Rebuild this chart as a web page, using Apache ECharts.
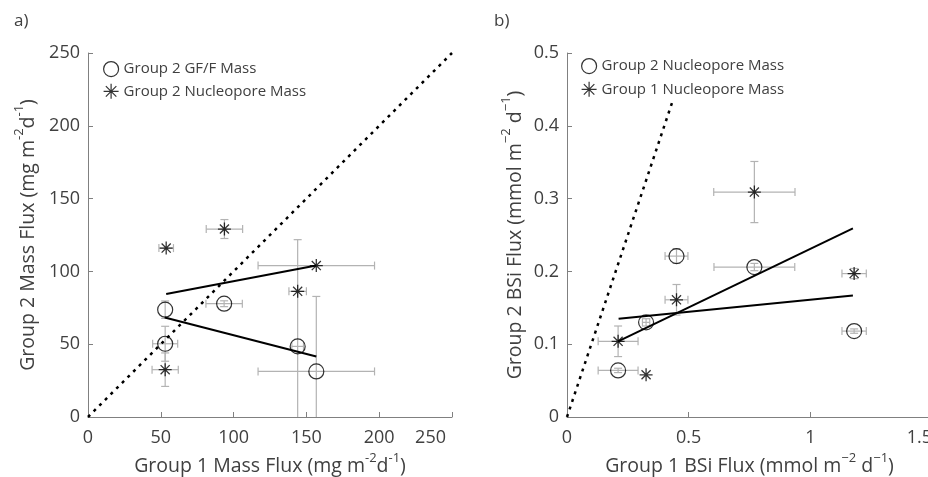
<!DOCTYPE html>
<html>
<head>
<meta charset="utf-8">
<script src="https://cdn.jsdelivr.net/npm/echarts@6/dist/echarts.min.js"></script>
<style>
html,body{margin:0;padding:0;background:#fff;}
#chart{width:928px;height:477px;}
</style>
</head>
<body>
<div id="chart"></div>
<script>
// ---------- Panel a) data ----------
const aXTicks = [0, 50, 100, 150, 200, 250];
const aYTicks = [0, 50, 100, 150, 200, 250];
// Group 2 GF/F Mass (circles)
const aCircX    = [53, 53, 93.5, 144, 156.8];
const aCircY    = [73.7, 50.3, 77.8, 48.5, 31.3];
const aCircXErr = [0, 8.6, 12.5, 4, 40];
const aCircYErr = [6, 12, 2, 73.3, 51.5];
// Group 2 Nucleopore Mass (asterisks)
const aStarX    = [53.7, 93.7, 156.8, 144, 53];
const aStarY    = [116, 129.1, 104, 86.3, 32.5];
const aStarXErr = [5, 12.5, 40, 6, 9];
const aStarYErr = [0, 6.5, 0, 0, 11.5];
// fit lines
const aFitStarX = [53.7, 156.8];
const aFitStarY = [84.5, 104.1];
const aFitCircX = [52.7, 156.8];
const aFitCircY = [68.4, 41.6];
// 1:1 line
const aOneX = [0, 250];
const aOneY = [0, 250];

// ---------- Panel b) data ----------
const bXTicks = [0, 0.5, 1, 1.5];
const bYTicks = [0, 0.1, 0.2, 0.3, 0.4, 0.5];
// Group 2 Nucleopore Mass (circles)
const bCircX    = [0.21, 0.325, 0.45, 0.77, 1.18];
const bCircY    = [0.064, 0.13, 0.221, 0.206, 0.118];
const bCircXErr = [0.082, 0.015, 0.047, 0.166, 0.05];
const bCircYErr = [0.003, 0.005, 0.01, 0.005, 0.003];
// Group 1 Nucleopore Mass (asterisks)
const bStarX    = [0.21, 0.325, 0.45, 0.77, 1.18];
const bStarY    = [0.104, 0.058, 0.161, 0.309, 0.197];
const bStarXErr = [0.082, 0, 0.047, 0.167, 0.05];
const bStarYErr = [0.021, 0, 0.021, 0.042, 0.007];
// fit lines
const bFitSteepX = [0.21, 1.175];
const bFitSteepY = [0.104, 0.259];
const bFitFlatX  = [0.212, 1.175];
const bFitFlatY  = [0.135, 0.167];
// 1:1 line
const bOneX = [0, 0.435];
const bOneY = [0, 0.435];

// ---------- helpers ----------
const FONT = '"Open Sans", "Noto Sans", sans-serif';
const TXT = '#404040';
const AXC = '#808080';
const ERRC = '#b3b3b3';
const STAR = 'path://M10,0L10,20M0,10L20,10M3,3L17,17M3,17L17,3';

function pairs(xs, ys) { return xs.map((x, i) => [x, ys[i]]); }
function quads(xs, ys, ex, ey) { return xs.map((x, i) => [x, ys[i], ex[i], ey[i]]); }

function errRender(params, api) {
  const x = api.value(0), y = api.value(1), dx = api.value(2), dy = api.value(3);
  const cap = 4;
  const st = { stroke: ERRC, lineWidth: 1.2 };
  const ch = [];
  if (dx > 0) {
    const l = api.coord([x - dx, y]), r = api.coord([x + dx, y]);
    ch.push({ type: 'line', shape: { x1: l[0], y1: l[1], x2: r[0], y2: r[1] }, style: st });
    ch.push({ type: 'line', shape: { x1: l[0], y1: l[1] - cap, x2: l[0], y2: l[1] + cap }, style: st });
    ch.push({ type: 'line', shape: { x1: r[0], y1: r[1] - cap, x2: r[0], y2: r[1] + cap }, style: st });
  }
  if (dy > 0) {
    const t = api.coord([x, y + dy]), b = api.coord([x, y - dy]);
    ch.push({ type: 'line', shape: { x1: t[0], y1: t[1], x2: b[0], y2: b[1] }, style: st });
    ch.push({ type: 'line', shape: { x1: t[0] - cap, y1: t[1], x2: t[0] + cap, y2: t[1] }, style: st });
    ch.push({ type: 'line', shape: { x1: b[0] - cap, y1: b[1], x2: b[0] + cap, y2: b[1] }, style: st });
  }
  return { type: 'group', children: ch };
}

const richName = {
  n: { fontSize: 19.5, color: TXT, fontFamily: FONT, lineHeight: 25, verticalAlign: 'bottom' },
  s: { fontSize: 13, color: TXT, fontFamily: FONT, lineHeight: 15, verticalAlign: 'top' }
};

function axis(gi, ticks, nameStr, gap, isY, maxPad) {
  const ax = {
    type: 'value', gridIndex: gi,
    min: ticks[0], max: ticks[ticks.length - 1], interval: ticks[1] - ticks[0],
    name: nameStr, nameLocation: 'middle', nameGap: gap,
    nameTextStyle: { rich: richName },
    axisLine: { show: true, onZero: false, lineStyle: { color: AXC, width: 1 } },
    axisTick: { show: true, inside: true, length: 5, lineStyle: { color: AXC } },
    axisLabel: { color: TXT, fontSize: 18, fontFamily: FONT, margin: isY ? 8 : 12,
                 formatter: v => String(v) },
    splitLine: { show: false }
  };
  if (!isY) {
    const mx = ticks[ticks.length - 1];
    ax.axisLabel.alignMaxLabel = 'right';
    ax.axisLabel.formatter = v => (v === mx ? '{m|' + v + '}' : String(v));
    ax.axisLabel.rich = { m: { fontSize: 18, color: TXT, fontFamily: FONT, padding: [0, maxPad, 0, 0] } };
  }
  return ax;
}

const circStyle = { color: 'rgba(0,0,0,0)', borderColor: '#000', borderWidth: 1.2 };
const starStyle = { color: '#000', borderColor: '#000', borderWidth: 1.3 };

const chart = echarts.init(document.getElementById('chart'), null, { renderer: 'canvas' });
chart.setOption({
  animation: false,
  backgroundColor: '#fff',
  textStyle: { fontFamily: FONT },
  grid: [
    { left: 88, top: 53, width: 364, height: 364, containLabel: false, outerBoundsMode: 'none' },
    { left: 567, top: 53, width: 365, height: 364, containLabel: false, outerBoundsMode: 'none' }
  ],
  xAxis: [
    axis(0, aXTicks, '{n|Group 1 Mass Flux (mg m}{s|-2}{n|d}{s|-1}{n|)}', 33, false, 6),
    axis(1, bXTicks, '{n|Group 1 BSi Flux (mmol m}{s|\u22122}{n| d}{s|\u22121}{n|)}', 33, false, 0)
  ],
  yAxis: [
    axis(0, aYTicks, '{n|Group 2 Mass Flux (mg m}{s|-2}{n|d}{s|-1}{n|)}', 50, true, 0),
    axis(1, bYTicks, '{n|Group 2 BSi Flux (mmol m}{s|\u22122}{n| d}{s|\u22121}{n|)}', 42, true, 0)
  ],
  legend: [
    {
      left: 98, top: 56, orient: 'vertical', itemWidth: 15, itemHeight: 15, itemGap: 6,
      textStyle: { color: TXT, fontSize: 15, fontFamily: FONT },
      itemStyle: { borderColor: '#000', borderWidth: 1.2 },
      data: ['Group 2 GF/F Mass', 'Group 2 Nucleopore Mass']
    },
    {
      left: 576, top: 53, orient: 'vertical', itemWidth: 15, itemHeight: 15, itemGap: 7,
      textStyle: { color: TXT, fontSize: 15, fontFamily: FONT },
      itemStyle: { borderColor: '#000', borderWidth: 1.2 },
      data: ['Group 2 Nucleopore Mass ', 'Group 1 Nucleopore Mass']
    }
  ],
  graphic: [
    { type: 'text', left: 14, top: 13, style: { text: 'a)', fontSize: 17, fill: TXT, fontFamily: FONT } },
    { type: 'text', left: 494, top: 13, style: { text: 'b)', fontSize: 17, fill: TXT, fontFamily: FONT } }
  ],
  series: [
    // ---- panel a ----
    { type: 'custom', xAxisIndex: 0, yAxisIndex: 0, clip: true, z: 1, silent: true,
      renderItem: errRender, data: quads(aCircX, aCircY, aCircXErr, aCircYErr) },
    { type: 'custom', xAxisIndex: 0, yAxisIndex: 0, clip: true, z: 1, silent: true,
      renderItem: errRender, data: quads(aStarX, aStarY, aStarXErr, aStarYErr) },
    { type: 'line', xAxisIndex: 0, yAxisIndex: 0, data: pairs(aOneX, aOneY), symbol: 'none', z: 2,
      lineStyle: { color: '#000', width: 2.5, type: [3, 5] } },
    { type: 'line', xAxisIndex: 0, yAxisIndex: 0, data: pairs(aFitStarX, aFitStarY), symbol: 'none', z: 3,
      lineStyle: { color: '#000', width: 2 } },
    { type: 'line', xAxisIndex: 0, yAxisIndex: 0, data: pairs(aFitCircX, aFitCircY), symbol: 'none', z: 3,
      lineStyle: { color: '#000', width: 2 } },
    { name: 'Group 2 GF/F Mass', type: 'scatter', xAxisIndex: 0, yAxisIndex: 0, z: 5,
      symbol: 'circle', symbolSize: 15, itemStyle: circStyle, data: pairs(aCircX, aCircY) },
    { name: 'Group 2 Nucleopore Mass', type: 'scatter', xAxisIndex: 0, yAxisIndex: 0, z: 5,
      symbol: STAR, symbolSize: 13, itemStyle: starStyle, data: pairs(aStarX, aStarY) },
    // ---- panel b ----
    { type: 'custom', xAxisIndex: 1, yAxisIndex: 1, clip: true, z: 1, silent: true,
      renderItem: errRender, data: quads(bCircX, bCircY, bCircXErr, bCircYErr) },
    { type: 'custom', xAxisIndex: 1, yAxisIndex: 1, clip: true, z: 1, silent: true,
      renderItem: errRender, data: quads(bStarX, bStarY, bStarXErr, bStarYErr) },
    { type: 'line', xAxisIndex: 1, yAxisIndex: 1, data: pairs(bOneX, bOneY), symbol: 'none', z: 2,
      lineStyle: { color: '#000', width: 2.5, type: [3, 5] } },
    { type: 'line', xAxisIndex: 1, yAxisIndex: 1, data: pairs(bFitSteepX, bFitSteepY), symbol: 'none', z: 3,
      lineStyle: { color: '#000', width: 2 } },
    { type: 'line', xAxisIndex: 1, yAxisIndex: 1, data: pairs(bFitFlatX, bFitFlatY), symbol: 'none', z: 3,
      lineStyle: { color: '#000', width: 2 } },
    { name: 'Group 2 Nucleopore Mass ', type: 'scatter', xAxisIndex: 1, yAxisIndex: 1, z: 5,
      symbol: 'circle', symbolSize: 15, itemStyle: circStyle, data: pairs(bCircX, bCircY) },
    { name: 'Group 1 Nucleopore Mass', type: 'scatter', xAxisIndex: 1, yAxisIndex: 1, z: 5,
      symbol: STAR, symbolSize: 13, itemStyle: starStyle, data: pairs(bStarX, bStarY) }
  ]
});
</script>
</body>
</html>
